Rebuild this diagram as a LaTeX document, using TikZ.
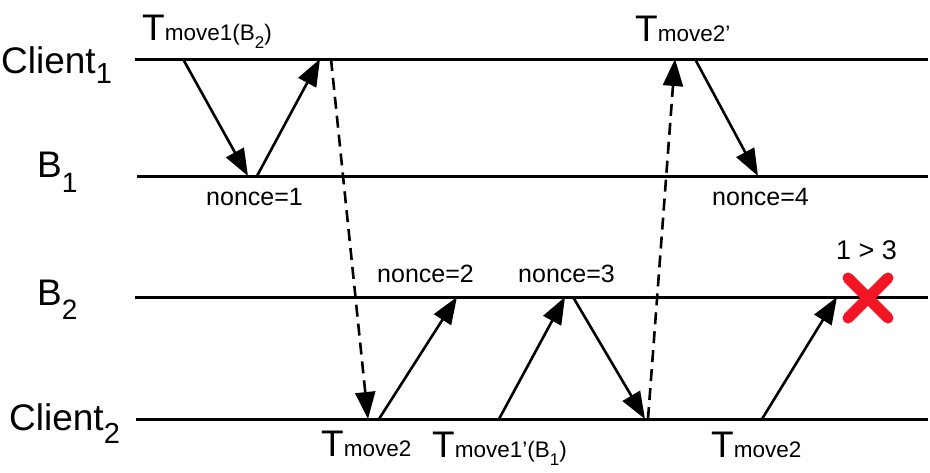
\documentclass[tikz,border=0pt]{standalone}
\usepackage{fontspec}
\setmainfont{Liberation Sans}
\usepackage{xcolor}
\usepackage{tikz}
\usetikzlibrary{calc,positioning,arrows.meta}
\definecolor{rejectred}{RGB}{242,22,36}
% lowered index: drop, size, text
\newcommand{\lowidx}[3]{\raisebox{-#1pt}{\fontsize{#2}{#2}\selectfont #3}}
\newcommand{\txn}[1]{T{\fontsize{22.5}{24}\selectfont #1}}

\begin{document}
\begin{tikzpicture}[x=1pt, y=-1pt,
  lane/.style={line width=3pt},
  arr/.style={line width=2.6pt, -{Triangle[length=27pt,width=20pt]}},
  late/.style={arr, dash pattern=on 12pt off 7pt},
  who/.style={font=\fontsize{37}{40}\selectfont, anchor=base west, inner sep=0pt},
  tlbl/.style={font=\fontsize{37}{40}\selectfont, anchor=base west, inner sep=0pt},
  nlbl/.style={font=\fontsize{25}{28}\selectfont, anchor=base west, inner sep=0pt},
]
  \useasboundingbox (0,0) rectangle (930,472);

  % time lines
  \draw[lane] (135,59) -- (928,59);
  \draw[lane] (137,176) -- (928,176);
  \draw[lane] (135,297) -- (928,297);
  \draw[lane] (136,419) -- (928,419);

  \node[who] (cl1) at (1,73) {Client\lowidx{10}{29}{1}};
  \node[who] (b1) at (37,177) {B\lowidx{15}{28}{1}};
  \node[who] (b2) at (37,305) {B\lowidx{14}{28}{2}};
  \node[who] (cl2) at (9,430) {Client\lowidx{13}{29}{2}};

  % message end points
  \coordinate (c1a) at (183,59);
  \coordinate (b1a) at (248,176);
  \coordinate (b1b) at (257,176);
  \coordinate (c1b) at (320,59);
  \coordinate (c1c) at (331,59);
  \coordinate (c2a) at (368,419);
  \coordinate (c2b) at (379,419);
  \coordinate (b2a) at (457,297);
  \coordinate (c2c) at (499,419);
  \coordinate (b2b) at (565,297);
  \coordinate (b2c) at (573,297);
  \coordinate (c2d) at (645,419);
  \coordinate (c2e) at (648,419);
  \coordinate (c1d) at (675,59);
  \coordinate (c1e) at (695,59);
  \coordinate (b1c) at (758,176);
  \coordinate (c2f) at (762,419);
  \coordinate (b2d) at (837,297);
  \coordinate (rej) at (868,298);

  \draw[arr] (c1a) -- (b1a);
  \draw[arr] (b1b) -- (c1b);
  \draw[late] (c1c) -- (c2a);
  \draw[arr] (c2b) -- (b2a);
  \draw[arr] (c2c) -- (b2b);
  \draw[arr] (b2c) -- (c2d);
  \draw[late] (c2e) -- (c1d);
  \draw[arr] (c1e) -- (b1c);
  \draw[arr] (c2f) -- (b2d);

  % transactions
  \node[tlbl] (tm1) at (142,40) {\txn{move1(B\lowidx{8}{17}{2})}};
  \node[tlbl] (tm2b) at (635,41) {\txn{move2'}};
  \node[tlbl] (tm2) at (321,456) {\txn{move2}};
  \node[tlbl] (tm1b) at (432,457) {\txn{move1'(B\lowidx{8}{17}{1})}};
  \node[tlbl] (tm2c) at (711,457) {\txn{move2}};

  % nonces
  \node[nlbl] (n1) at (206,205) {nonce=1};
  \node[nlbl] (n2) at (377,282) {nonce=2};
  \node[nlbl] (n3) at (518,282) {nonce=3};
  \node[nlbl] (n4) at (712,205) {nonce=4};
  \node[font=\fontsize{27}{30}\selectfont, anchor=base west, inner sep=0pt] (cmp) at (836,259) {1 > 3};

  \draw[rejectred, line width=11pt, line cap=round]
    ($(rej)+(-20,-20)$) -- ($(rej)+(20,20)$)
    ($(rej)+(20,-20)$) -- ($(rej)+(-20,20)$);
\end{tikzpicture}
\end{document}
